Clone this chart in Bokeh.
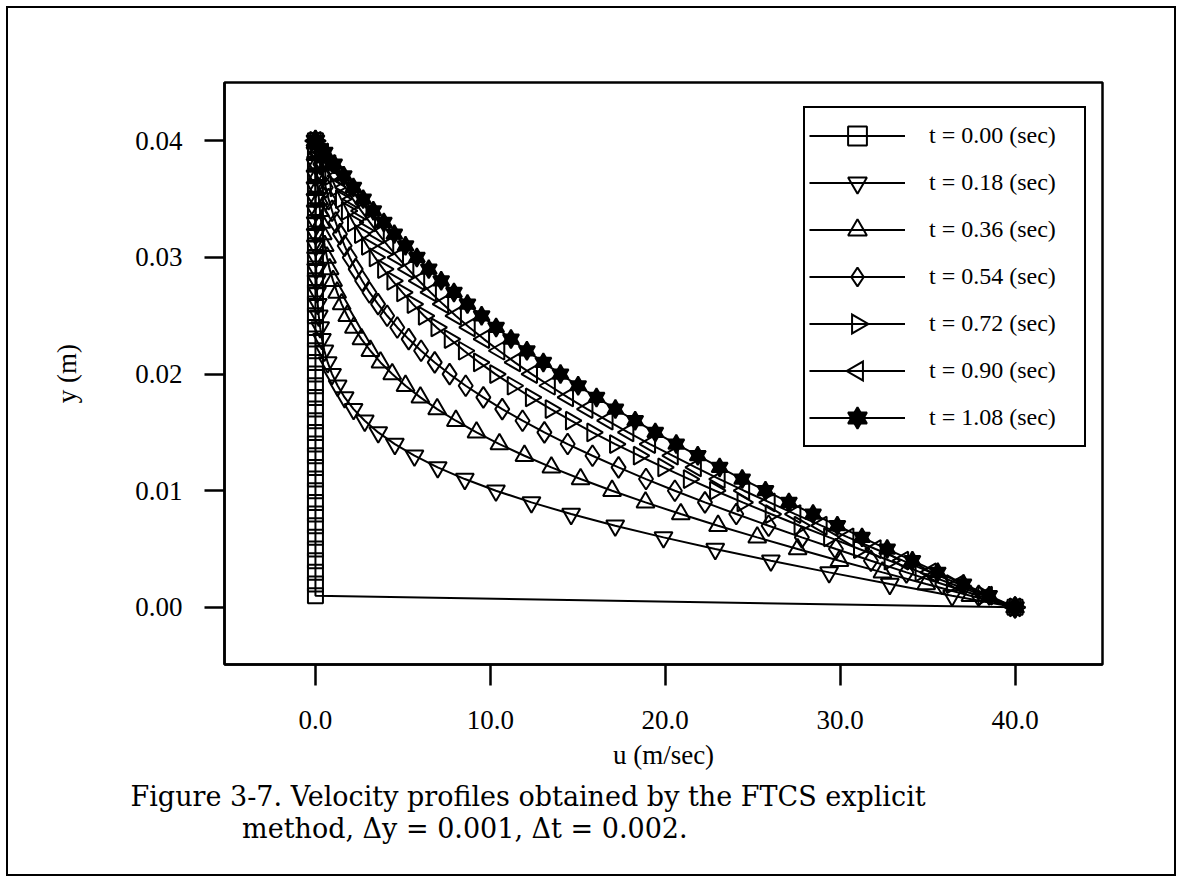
import math
from bokeh.plotting import figure
from bokeh.models import Legend, LegendItem, Title, FixedTicker, NumeralTickFormatter, Range1d, CustomJS
from bokeh.core.properties import value
from bokeh.embed import file_html
from bokeh.resources import INLINE

# ---- data ----
y_m = [0.000, 0.001, 0.002, 0.003, 0.004, 0.005, 0.006, 0.007, 0.008, 0.009,
       0.010, 0.011, 0.012, 0.013, 0.014, 0.015, 0.016, 0.017, 0.018, 0.019,
       0.020, 0.021, 0.022, 0.023, 0.024, 0.025, 0.026, 0.027, 0.028, 0.029,
       0.030, 0.031, 0.032, 0.033, 0.034, 0.035, 0.036, 0.037, 0.038, 0.039,
       0.040]

u_t000 = [40.0, 0.0, 0.0, 0.0, 0.0, 0.0, 0.0, 0.0, 0.0, 0.0,
          0.0, 0.0, 0.0, 0.0, 0.0, 0.0, 0.0, 0.0, 0.0, 0.0,
          0.0, 0.0, 0.0, 0.0, 0.0, 0.0, 0.0, 0.0, 0.0, 0.0,
          0.0, 0.0, 0.0, 0.0, 0.0, 0.0, 0.0, 0.0, 0.0, 0.0,
          0.0]
u_t018 = [40.00, 36.40, 32.84, 29.37, 26.04, 22.86, 19.90, 17.14, 14.62, 12.35,
          10.32, 8.54, 6.99, 5.66, 4.54, 3.59, 2.82, 2.18, 1.67, 1.27,
          0.95, 0.70, 0.51, 0.37, 0.27, 0.19, 0.13, 0.09, 0.06, 0.04,
          0.03, 0.02, 0.01, 0.01, 0.01, 0.00, 0.00, 0.00, 0.00, 0.00,
          0.00]
u_t036 = [40.00, 37.45, 34.92, 32.42, 29.96, 27.57, 25.26, 23.02, 20.89, 18.87,
          16.96, 15.16, 13.49, 11.95, 10.52, 9.21, 8.03, 6.96, 6.00, 5.15,
          4.39, 3.72, 3.14, 2.63, 2.20, 1.82, 1.50, 1.24, 1.01, 0.81,
          0.66, 0.53, 0.42, 0.33, 0.26, 0.20, 0.14, 0.10, 0.07, 0.03,
          0.00]
u_t054 = [40.00, 37.92, 35.84, 33.79, 31.76, 29.76, 27.81, 25.91, 24.06, 22.27,
          20.55, 18.90, 17.33, 15.84, 14.42, 13.09, 11.84, 10.68, 9.60, 8.59,
          7.67, 6.82, 6.04, 5.33, 4.68, 4.10, 3.58, 3.09, 2.67, 2.30,
          1.96, 1.67, 1.40, 1.16, 0.95, 0.75, 0.59, 0.43, 0.28, 0.14,
          0.00]
u_t072 = [40.00, 38.20, 36.40, 34.61, 32.84, 31.09, 29.38, 27.69, 26.04, 24.43,
          22.86, 21.36, 19.90, 18.50, 17.14, 15.84, 14.62, 13.46, 12.33, 11.29,
          10.29, 9.36, 8.50, 7.69, 6.93, 6.21, 5.57, 4.97, 4.41, 3.88,
          3.40, 2.96, 2.56, 2.16, 1.81, 1.47, 1.16, 0.86, 0.57, 0.28,
          0.00]
u_t090 = [40.00, 38.38, 36.78, 35.17, 33.59, 32.02, 30.46, 28.93, 27.43, 25.96,
          24.50, 23.10, 21.74, 20.42, 19.12, 17.88, 16.69, 15.54, 14.43, 13.39,
          12.37, 11.40, 10.50, 9.63, 8.81, 8.02, 7.29, 6.59, 5.92, 5.30,
          4.71, 4.15, 3.61, 3.11, 2.62, 2.14, 1.71, 1.27, 0.84, 0.42,
          0.00]
u_t108 = [40.00, 38.52, 37.05, 35.58, 34.13, 32.69, 31.25, 29.84, 28.45, 27.07,
          25.73, 24.40, 23.11, 21.86, 20.63, 19.43, 18.28, 17.15, 16.07, 15.02,
          14.01, 13.03, 12.09, 11.18, 10.33, 9.50, 8.69, 7.92, 7.19, 6.48,
          5.80, 5.15, 4.51, 3.91, 3.31, 2.73, 2.17, 1.62, 1.07, 0.53,
          0.00]

series_labels = ["t = 0.00 (sec)", "t = 0.18 (sec)", "t = 0.36 (sec)", "t = 0.54 (sec)",
                 "t = 0.72 (sec)", "t = 0.90 (sec)", "t = 1.08 (sec)"]
series_values = [u_t000, u_t018, u_t036, u_t054, u_t072, u_t090, u_t108]

x_ticks = [0, 10, 20, 30, 40]
y_ticks = [0.00, 0.01, 0.02, 0.03, 0.04]

x_label = "u (m/sec)"
y_label = "y (m)"
caption_1 = "Figure 3-7. Velocity profiles obtained by the FTCS explicit"
caption_2 = "method, \u0394y = 0.001, \u0394t = 0.002."
caption_indent = "\u00a0" * 13

# ---- styles ----
SERIF = "Liberation Serif"

def tri_js(direction):
    return CustomJS(code="""
const cands = Array.from(arguments);
if (typeof cb_data !== "undefined") cands.push(cb_data);
let ctx = null, r = 9;
if (cands.length > 0 && cands[0] != null && typeof cands[0].moveTo === "function") {
  ctx = cands[0];
  if (typeof cands[2] === "number") r = cands[2];
} else {
  for (const a of cands) {
    if (a != null && typeof a === "object" && a.ctx != null && typeof a.ctx.moveTo === "function") {
      ctx = a.ctx;
      if (typeof a.r === "number") r = a.r;
    }
  }
}
if (ctx != null) {
  const s = %s;
  const h = r * Math.sqrt(3);
  const a = h / 3;
  ctx.beginPath();
  ctx.moveTo(-s * a, -r);
  ctx.lineTo(-s * a, r);
  ctx.lineTo(s * 2 * a, 0);
  ctx.closePath();
  ctx.lineWidth = 2;
  ctx.strokeStyle = "black";
  ctx.stroke();
}
""" % ("1" if direction == "right" else "-1"))

markers = [
    [("square", 15, 0.0, False)],
    [("inverted_triangle", 18, 0.0, False)],
    [("triangle", 18, 0.0, False)],
    [("diamond", 21, 0.0, False)],
    [("@tri_right", 18, -math.pi / 2, False)],
    [("@tri_left", 18, math.pi / 2, False)],
    [("triangle", 16, 0.0, True), ("inverted_triangle", 16, 0.0, True)],
]

p = figure(width=1170, height=870,
           x_range=Range1d(-5.2, 45.0), y_range=Range1d(-0.0049, 0.0450),
           output_backend="svg", toolbar_location=None,
           min_border_left=216, min_border_right=76, min_border_top=74, min_border_bottom=214)
p.margin = (6, 0, 0, 6)
p.styles = {"border": "2px solid black"}
p.background_fill_color = "white"
p.border_fill_color = "white"
p.outline_line_color = "black"
p.outline_line_width = 2.5
p.xgrid.visible = False
p.ygrid.visible = False

for ax in (p.xaxis, p.yaxis):
    ax.axis_line_width = 2.5
    ax.axis_line_color = "black"
    ax.major_tick_in = 0
    ax.major_tick_line_width = 2.5
    ax.major_tick_line_color = "black"
    ax.minor_tick_in = 0
    ax.minor_tick_out = 0
    ax.major_label_text_font = SERIF
    ax.major_label_text_font_size = "27px"
    ax.major_label_text_color = "black"
    ax.axis_label_text_font = SERIF
    ax.axis_label_text_font_size = "27px"
    ax.axis_label_text_font_style = "normal"
    ax.axis_label_text_color = "black"

p.xaxis.ticker = FixedTicker(ticks=x_ticks)
p.yaxis.ticker = FixedTicker(ticks=y_ticks)
p.xaxis.formatter = NumeralTickFormatter(format="0.0")
p.yaxis.formatter = NumeralTickFormatter(format="0.00")
p.xaxis.major_tick_out = 21
p.yaxis.major_tick_out = 20
p.xaxis.major_label_standoff = 25
p.yaxis.major_label_standoff = 22
p.xaxis.axis_label = x_label
p.yaxis.axis_label = y_label
p.xaxis.axis_label_standoff = 8
p.yaxis.axis_label_standoff = 50

def add_scatter(vals, shape, size, ang, filled):
    common = dict(size=size, line_color="black", line_width=2,
                  fill_color="black", fill_alpha=1.0 if filled else 0.0)
    if shape.startswith("@"):
        try:
            return p.scatter(vals, y_m, marker=value(shape),
                             defs={shape: tri_js("right" if shape == "@tri_right" else "left")},
                             **common)
        except Exception:
            return p.scatter(vals, y_m, marker="triangle", angle=ang, **common)
    return p.scatter(vals, y_m, marker=shape, angle=ang, **common)

items = []
for label, vals, mk in zip(series_labels, series_values, markers):
    rends = [p.line(vals, y_m, line_color="black", line_width=2)]
    for (shape, size, ang, filled) in mk:
        rends.append(add_scatter(vals, shape, size, ang, filled))
    items.append(LegendItem(label=label, renderers=rends))

legend = Legend(items=items, location=(579, 217),
                border_line_color="black", border_line_width=2, border_line_alpha=1.0,
                background_fill_color="white", background_fill_alpha=1.0,
                label_text_font=SERIF, label_text_font_size="24px",
                label_text_color="black",
                glyph_width=96, glyph_height=47, label_height=47,
                spacing=0, padding=4, margin=0,
                label_standoff=24, label_width=151)
p.add_layout(legend, "center")

p.add_layout(Title(text=caption_1 + "\n" + caption_indent + caption_2,
                   align="left", offset=-94, standoff=14,
                   text_font="DejaVu Serif", text_font_size="27px",
                   text_font_style="normal", text_color="black",
                   text_line_height=1.04), "below")

open("out.html", "w").write(file_html(p, INLINE))
